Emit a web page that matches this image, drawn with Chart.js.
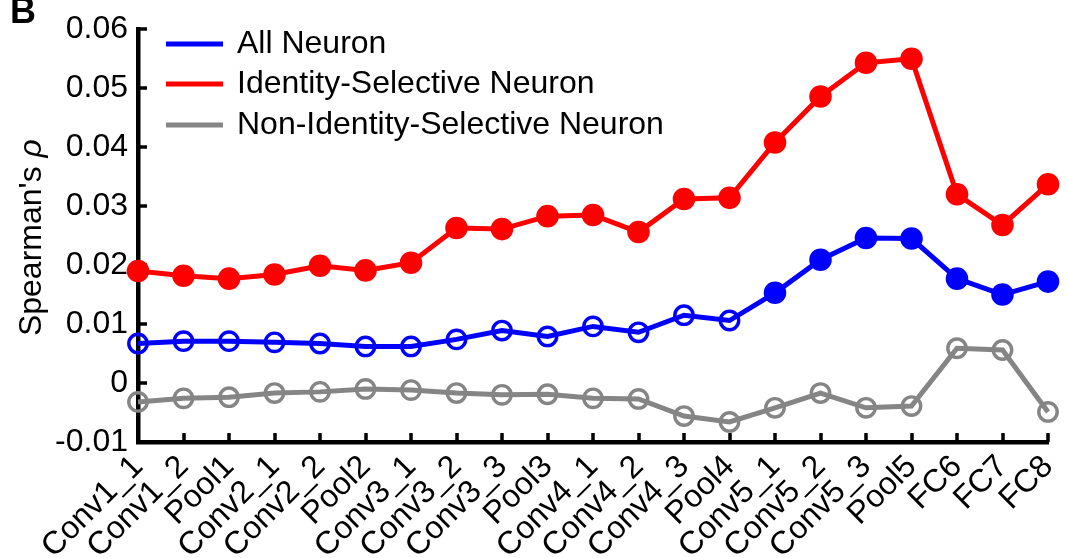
<!DOCTYPE html>
<html><head><meta charset="utf-8">
<script src="https://cdn.jsdelivr.net/npm/chart.js@4.4.0/dist/chart.umd.min.js"></script>
<style>html,body{margin:0;padding:0;background:#fff;overflow:hidden}</style>
</head><body>
<canvas id="c" width="1067" height="558"></canvas>
<script>
const categories = ['Conv1_1','Conv1_2','Pool1','Conv2_1','Conv2_2','Pool2','Conv3_1','Conv3_2','Conv3_3','Pool3','Conv4_1','Conv4_2','Conv4_3','Pool4','Conv5_1','Conv5_2','Conv5_3','Pool5','FC6','FC7','FC8'];
const allNeuron = [0.0067,0.0071,0.0071,0.0069,0.0067,0.0062,0.0062,0.0074,0.0089,0.0079,0.0096,0.0086,0.0115,0.0106,0.0153,0.0209,0.0246,0.0245,0.0177,0.0150,0.0172];
const identitySelective = [0.0190,0.0182,0.0177,0.0184,0.0199,0.0191,0.0204,0.0263,0.0261,0.0283,0.0285,0.0256,0.0312,0.0314,0.0408,0.0486,0.0543,0.0550,0.0320,0.0268,0.0337];
const nonIdentitySelective = [-0.0032,-0.0026,-0.0024,-0.0017,-0.0015,-0.0010,-0.0012,-0.0017,-0.0020,-0.0019,-0.0026,-0.0027,-0.0056,-0.0066,-0.0042,-0.0017,-0.0042,-0.0039,0.0059,0.0056,-0.0049];
const allNeuronFilled = [false,false,false,false,false,false,false,false,false,false,false,false,false,false,true,true,true,true,true,true,true];
const yTickValues = [-0.01,0,0.01,0.02,0.03,0.04,0.05,0.06];
const yTickLabels = ['-0.01','0','0.01','0.02','0.03','0.04','0.05','0.06'];
const seriesNames = ['All Neuron','Identity-Selective Neuron','Non-Identity-Selective Neuron'];
const yTitle = "Spearman's ";
const yTitleSymbol = 'ρ';

const BLUE='#0000ff', RED='#ff0000', GRAY='#858585';
const FONT='"Liberation Sans", Arial, Helvetica, sans-serif';
const FS=32;

const overlay = {
  id:'overlay',
  beforeDatasetsDraw(chart){
    const {ctx, chartArea:a, scales:{x,y}} = chart;
    ctx.save();
    ctx.strokeStyle='#000'; ctx.lineWidth=3.5;
    yTickValues.forEach(v=>{const py=Math.round(y.getPixelForValue(v)); ctx.beginPath(); ctx.moveTo(a.left,py); ctx.lineTo(a.left+9,py); ctx.stroke();});
    categories.forEach((c,i)=>{const px=Math.round(x.getPixelForValue(i)); ctx.beginPath(); ctx.moveTo(px,a.bottom); ctx.lineTo(px,a.bottom-9); ctx.stroke();});
    ctx.restore();
  },
  afterDraw(chart){
    const {ctx, chartArea:a} = chart;
    ctx.save();
    const cols=[BLUE,RED,GRAY];
    const ys=[44,84,125];
    ctx.font=FS+'px '+FONT; ctx.textBaseline='middle'; ctx.textAlign='left';
    seriesNames.forEach((n,i)=>{
      ctx.strokeStyle=cols[i]; ctx.lineWidth=5;
      ctx.beginPath(); ctx.moveTo(166,ys[i]); ctx.lineTo(223,ys[i]); ctx.stroke();
      ctx.fillStyle='#000'; ctx.fillText(n,237,ys[i]);
    });
    // y-axis title (rotated), italic rho
    ctx.save();
    ctx.translate(32,(a.top+a.bottom)/2+2);
    ctx.rotate(-Math.PI/2);
    ctx.font=FS+'px '+FONT;
    const w1=ctx.measureText(yTitle).width;
    ctx.font='italic '+FS+'px '+FONT;
    const w2=ctx.measureText(yTitleSymbol).width;
    const x0=-(w1+w2)/2;
    ctx.textAlign='left'; ctx.textBaseline='middle'; ctx.fillStyle='#000';
    ctx.font=FS+'px '+FONT; ctx.fillText(yTitle,x0,0);
    ctx.font='italic '+FS+'px '+FONT; ctx.fillText(yTitleSymbol,x0+w1,0);
    ctx.restore();
    ctx.fillStyle='#000';
    ctx.font='bold 36px '+FONT; ctx.textBaseline='alphabetic';
    ctx.fillText('B',10,23);
    ctx.restore();
  }
};

const openR=9.2, openBW=3.4, fillR=10, fillBW=2.6;
new Chart(document.getElementById('c'),{
  type:'line',
  data:{
    labels:categories,
    datasets:[
      {label:seriesNames[0], data:allNeuron, borderColor:BLUE, borderWidth:5,
       pointRadius:allNeuronFilled.map(f=>f?fillR:openR),
       pointBorderWidth:allNeuronFilled.map(f=>f?fillBW:openBW),
       pointBackgroundColor:allNeuronFilled.map(f=>f?BLUE:'rgba(0,0,0,0)'),
       pointBorderColor:BLUE, tension:0, clip:false},
      {label:seriesNames[1], data:identitySelective, borderColor:RED, borderWidth:5,
       pointRadius:fillR, pointBorderWidth:fillBW, pointBackgroundColor:RED, pointBorderColor:RED, tension:0, clip:false},
      {label:seriesNames[2], data:nonIdentitySelective, borderColor:GRAY, borderWidth:5,
       pointRadius:openR, pointBorderWidth:openBW, pointBackgroundColor:'rgba(0,0,0,0)', pointBorderColor:GRAY, tension:0, clip:false}
    ]
  },
  options:{
    responsive:false, animation:false, devicePixelRatio:1,
    layout:{padding:{top:25,right:19,left:0,bottom:0}},
    plugins:{legend:{display:false}, tooltip:{enabled:false}},
    scales:{
      x:{
        offset:false,
        grid:{display:false, drawTicks:false},
        border:{display:true,color:'#000',width:4.5},
        ticks:{autoSkip:false,maxRotation:45,minRotation:45,padding:6,color:'#000',font:{family:FONT,size:FS}},
        afterFit(s){s.height=116; s.paddingLeft=0; s.paddingRight=0;}
      },
      y:{
        min:-0.01,max:0.06,
        grid:{display:false, drawTicks:false},
        border:{display:true,color:'#000',width:4.5},
        afterBuildTicks(s){s.ticks=yTickValues.map(v=>({value:v}));},
        ticks:{padding:10,color:'#000',font:{family:FONT,size:FS},
          callback:(v)=>{const i=yTickValues.findIndex(t=>Math.abs(t-v)<1e-9);return i>=0?yTickLabels[i]:'';}},
        title:{display:false},
        afterFit(s){s.width=138;}
      }
    }
  },
  plugins:[overlay]
});
</script>
</body></html>
